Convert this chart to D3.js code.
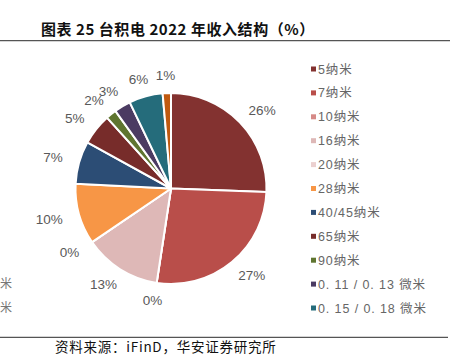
<!DOCTYPE html>
<html><head><meta charset="utf-8">
<script src="https://cdn.jsdelivr.net/npm/d3@7"></script>
<style>
html,body{margin:0;padding:0;background:#fff;}
svg{display:block;}
</style>
</head><body>
<svg id="c" width="456" height="356"></svg>
<script>
const title = "图表 25 台积电 2022 年收入结构（%）";
const source = "资料来源：iFinD，华安证券研究所";
const categories = ["5纳米","7纳米","10纳米","16纳米","20纳米","28纳米","40/45纳米","65纳米","90纳米","0. 11 / 0. 13  微米","0. 15 / 0. 18  微米","0.25微米及以上"];
const values = [25.6, 26.8, 0, 13.1, 0, 10.3, 7.2, 5.3, 1.8, 2.8, 5.7, 1.4];
const colors = ["#833230","#B94E4A","#D68A87","#DEB8B7","#EBD0CF","#F79646","#2C4D75","#772C2A","#5F7530","#4B3B62","#256C7B","#C0590F"];
const legendCount = 11;

const svg = d3.select("#c");
const cx = 171, cy = 188.5, R = 95.5;

// title
svg.append("text").attr("x", 41).attr("y", 34.5)
  .attr("font-family", "'Noto Sans CJK SC', sans-serif").attr("font-weight", "bold")
  .attr("font-size", 15).attr("letter-spacing", 0.55).attr("fill", "#111").text(title);
svg.append("line").attr("x1", 0).attr("x2", 450).attr("y1", 40.7).attr("y2", 40.7)
  .attr("stroke", "#555").attr("stroke-width", 1.3);

// pie
const total = d3.sum(values);
const pie = d3.pie().sort(null).value(d => d);
const arcs = pie(values);
const arc = d3.arc().innerRadius(0).outerRadius(R);
const g = svg.append("g").attr("transform", `translate(${cx},${cy})`);
g.selectAll("path").data(arcs).join("path")
  .attr("d", arc).attr("fill", (d, i) => colors[i])
  .attr("stroke", "#fff").attr("stroke-width", 2).attr("stroke-linejoin", "round");

// labels
const fmt = v => Math.round(v / total * 100) + "%";
const lbl = g.selectAll("text.lbl").data(arcs).join("text").attr("class", "lbl")
  .attr("font-family", "'Liberation Sans', Arial, sans-serif").attr("font-size", 13.5)
  .attr("fill", "#595959").attr("text-anchor", "middle").attr("dy", "0.35em")
  .text((d, i) => fmt(values[i]));
lbl.each(function(d) {
  const a = (d.startAngle + d.endAngle) / 2;
  const w = this.getComputedTextLength();
  const rl = R + 17.5;
  const x = rl * Math.sin(a) + (w / 2) * Math.sin(a);
  const y = -rl * Math.cos(a);
  d3.select(this).attr("x", x).attr("y", y);
});

// legend
const ly = d3.scalePoint().domain(d3.range(legendCount)).range([69, 308]);
const lg = svg.append("g");
const items = lg.selectAll("g").data(d3.range(legendCount)).join("g")
  .attr("transform", i => `translate(311,${ly(i)})`);
items.append("rect").attr("x", 0).attr("y", -2.5).attr("width", 5).attr("height", 5)
  .attr("fill", i => colors[i]);
items.append("text").attr("x", 7).attr("dy", "0.36em")
  .attr("font-family", "'Liberation Sans', 'Noto Sans CJK SC', sans-serif").attr("font-size", 12.5)
  .attr("fill", "#666").attr("letter-spacing", 0.9).text(i => categories[i]);

// legend fragments at left edge
[284, 308].forEach(y => {
  svg.append("text").attr("x", 0).attr("y", y).attr("dy", "0.36em")
    .attr("font-family", "'Noto Sans CJK SC', sans-serif").attr("font-size", 12)
    .attr("fill", "#777").text("米");
});

// bottom line & source
svg.append("line").attr("x1", 0).attr("x2", 448).attr("y1", 337.3).attr("y2", 337.3)
  .attr("stroke", "#555").attr("stroke-width", 1.3);
svg.append("text").attr("x", 55).attr("y", 351.5)
  .attr("font-family", "'Noto Sans CJK SC', sans-serif").attr("font-size", 13.5)
  .attr("fill", "#111").attr("letter-spacing", 0.75).text(source);
</script>
</body></html>
